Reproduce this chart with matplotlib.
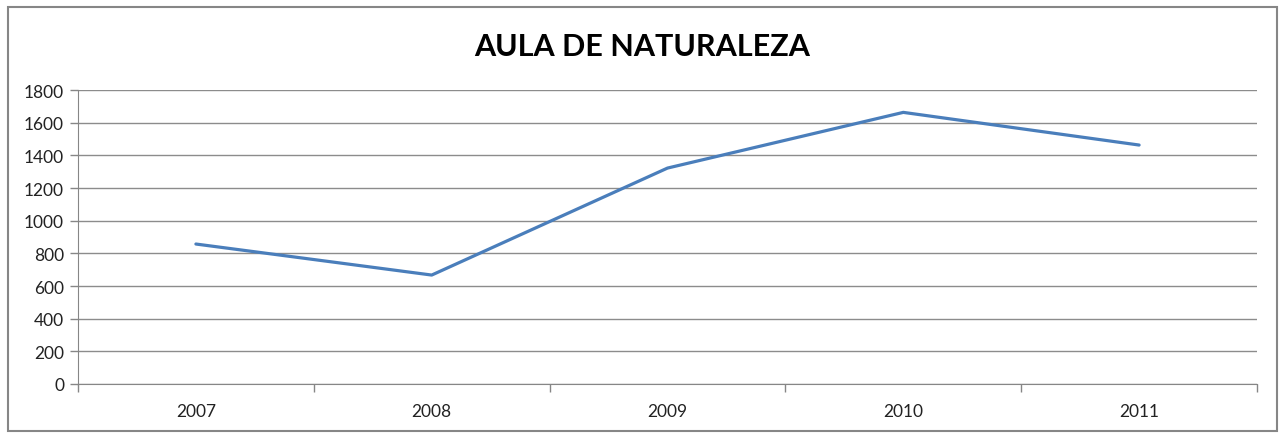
import matplotlib

matplotlib.use("Agg")
import matplotlib.pyplot as plt
from matplotlib.patches import Rectangle

years = ["2007", "2008", "2009", "2010", "2011"]
visitors = [857, 667, 1322, 1663, 1463]
y_ticks = [0, 200, 400, 600, 800, 1000, 1200, 1400, 1600, 1800]

W, H = 1280, 435
plt.rcParams["font.family"] = ["Lato", "DejaVu Sans"]

fig = plt.figure(figsize=(W / 100, H / 100), dpi=100)
fig.patches.append(Rectangle((8 / W, 1 - 432 / H), 1269 / W, 424 / H,
                             transform=fig.transFigure, fill=False,
                             edgecolor="#868686", linewidth=1.5))

ax = fig.add_axes([78 / W, 1 - 385 / H, (1257 - 78) / W, (385 - 91) / H])
x = list(range(len(years)))
ax.plot(x, visitors, color="#4A7EBB", linewidth=2.3, solid_capstyle="round",
        solid_joinstyle="round", zorder=3)

ax.set_xlim(-0.5, len(years) - 0.5)
ax.set_ylim(0, 1800)
ax.set_yticks(y_ticks)
ax.yaxis.grid(True, color="#8c8c8c", linewidth=1)
ax.set_axisbelow(True)

# category boundaries get the tick marks, labels sit between them
ax.set_xticks([i - 0.5 for i in range(len(years) + 1)])
ax.set_xticklabels([])
ax.set_xticks(x, minor=True)
ax.set_xticklabels(years, minor=True)
ax.tick_params(axis="x", which="major", length=6, color="#868686", width=1)
ax.tick_params(axis="x", which="minor", length=0, pad=14, labelsize=12.5, labelcolor="#222222")
ax.tick_params(axis="y", length=6, color="#868686", width=1, labelsize=12.5,
               labelcolor="#222222", pad=4)

for side in ["top", "right"]:
    ax.spines[side].set_visible(False)
for side in ["left", "bottom"]:
    ax.spines[side].set_color("#868686")

fig.text(642 / W, 1 - 47 / H, "AULA DE NATURALEZA", ha="center", va="center",
         fontsize=22, fontweight="bold", color="#000000")

fig.savefig("out.png", dpi=100)
